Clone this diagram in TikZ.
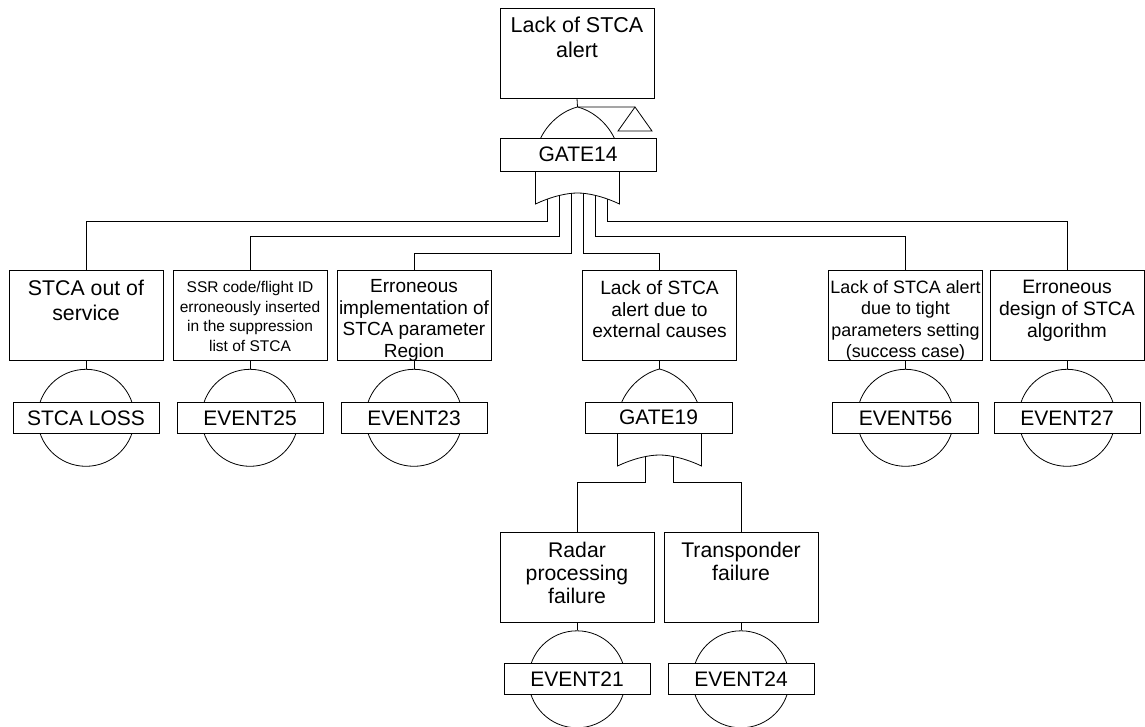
\documentclass[tikz,border=0pt]{standalone}
\usepackage{fontspec}
\setmainfont{Liberation Sans}
\usetikzlibrary{calc}
\newcommand\bt[4]{\parbox[c][88pt][t]{152pt}{\centering\fontsize{#1}{#2}\selectfont\vspace*{#3pt}#4\par}}
\newcommand\orgate[2]{%
  \filldraw[fill=white] (#1-42,#2+97) -- (#1-42,#2+50)
    .. controls (#1-40,#2+25) and (#1-20,#2+5) .. (#1,#2)
    .. controls (#1+20,#2+5) and (#1+40,#2+25) .. (#1+42,#2+50)
    -- (#1+42,#2+97)
    .. controls (#1+25,#2+89) and (#1+10,#2+86) .. (#1,#2+86)
    .. controls (#1-10,#2+86) and (#1-25,#2+89) .. cycle;}
\begin{document}
\begin{tikzpicture}[x=1pt,y=-1pt,line width=0.8pt,
  evbox/.style={draw,fill=white,minimum width=154pt,minimum height=90pt,inner sep=0pt},
  evcirc/.style={draw,circle,minimum size=97pt,inner sep=0pt},
  tag/.style={draw,fill=white,minimum width=146pt,minimum height=31pt,inner sep=0pt,font=\fontsize{21}{25}\selectfont},
]
\useasboundingbox (0,0) rectangle (1145,726);

% event boxes
\node[evbox] (top) at (577,53) {\bt{21.5}{25}{8}{Lack of STCA\\alert}};
\node[evbox] (c1) at (86,315.5) {\bt{21.3}{25}{9}{STCA out of\\service}};
\node[evbox] (c2) at (250,315.5) {\bt{15.5}{19.5}{10}{SSR code/flight ID\\erroneously inserted\\in the suppression\\list of STCA}};
\node[evbox] (c3) at (414,315.5) {\bt{19}{21.5}{8}{Erroneous\\implementation of\\STCA parameter\\Region}};
\node[evbox] (c4) at (659.5,315.5) {\bt{19.2}{21.7}{9}{Lack of STCA\\alert due to\\external causes}};
\node[evbox] (c5) at (905.5,315.5) {\bt{17.9}{21.5}{9}{Lack of STCA alert\\due to tight\\parameters setting\\(success case)}};
\node[evbox] (c6) at (1067,315.5) {\bt{19.4}{22}{9}{Erroneous\\design of STCA\\algorithm}};
\node[evbox] (d1) at (577,577) {\bt{21.2}{23.3}{9}{Radar\\processing\\failure}};
\node[evbox] (d2) at (741,577) {\bt{21.2}{23.3}{9}{Transponder\\failure}};

% gate reference points
\coordinate (g14a) at (577.5,107);
\coordinate (g14b) at (577.5,193);
\coordinate (g19a) at (659.5,369);
\coordinate (g19b) at (659.5,455);
\coordinate (tr) at (635,107);

% connectors
\draw (top.south) -- (g14a) -- (tr);
\draw (tr) -- (618,131) -- (652,131) -- cycle;
\draw (c4.south) -- (g19a);
\draw ([xshift=-30pt]g14b) |- ($(c1.north)+(0,-49)$) -- (c1.north);
\draw ([xshift=-18pt]g14b) |- ($(c2.north)+(0,-34)$) -- (c2.north);
\draw ([xshift=-6pt]g14b) |- ($(c3.north)+(0,-17)$) -- (c3.north);
\draw ([xshift=6pt]g14b) |- ($(c4.north)+(0,-17)$) -- (c4.north);
\draw ([xshift=18pt]g14b) |- ($(c5.north)+(0,-34)$) -- (c5.north);
\draw ([xshift=30pt]g14b) |- ($(c6.north)+(0,-49)$) -- (c6.north);
\draw ([xshift=-14pt]g19b) |- ($(d1.north)+(0,-49)$) -- (d1.north);
\draw ([xshift=14pt]g19b) |- ($(d2.north)+(0,-49)$) -- (d2.north);

% gates
\orgate{577.5}{107}
\orgate{659.5}{369}
\node[tag,minimum width=156pt,minimum height=33pt] (l14) at (578,154.5) {GATE14};
\node[tag,minimum width=147pt] (l19) at (658.5,417.5) {GATE19};

% basic events
\foreach \c/\t in {c1/STCA LOSS,c2/EVENT25,c3/EVENT23,c5/EVENT56,c6/EVENT27,d1/EVENT21,d2/EVENT24}{
  \node[evcirc,anchor=north] (e\c) at ($(\c.south)+(0,8)$) {};
  \draw (\c.south) -- (e\c.north);
  \node[tag] (t\c) at (e\c.center) {\t};
}
\end{tikzpicture}
\end{document}
